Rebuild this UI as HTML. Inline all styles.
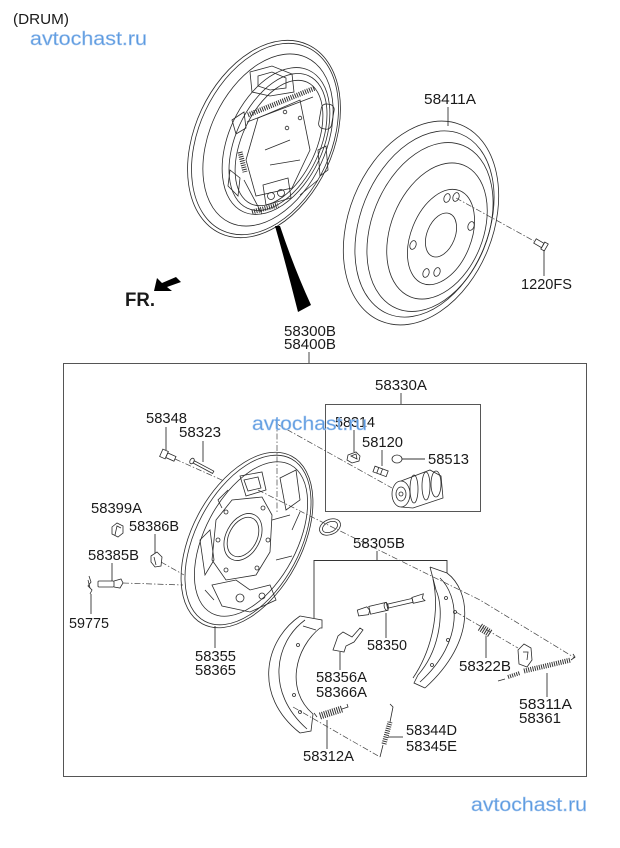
<!DOCTYPE html>
<html><head><meta charset="utf-8"><style>
html,body{margin:0;padding:0;background:#fff;}
svg{display:block}
text{font-family:"Liberation Sans",Arial,sans-serif;font-size:14.5px;fill:#1a1a1a}
.wm{fill:#5b9ae0;font-size:19px;stroke:#a8c8ef;stroke-width:0.5}
.l{stroke:#2a2a2a;stroke-width:0.8;fill:none}
.f{stroke:#2a2a2a;stroke-width:0.8;fill:#fff}
.d{stroke:#444;stroke-width:0.7;fill:none;stroke-dasharray:6 2 1.5 2}
.k{stroke:#333;stroke-width:0.9;fill:none}
.c{stroke:#333;fill:none;stroke-dasharray:1 1.2}
</style></head><body>
<svg width="620" height="848" viewBox="0 0 620 848" xmlns="http://www.w3.org/2000/svg">
<rect width="620" height="848" fill="#fff"/>

<!-- header -->
<text x="13" y="24" textLength="56" lengthAdjust="spacingAndGlyphs">(DRUM)</text>
<text class="wm" x="30" y="45" textLength="117" lengthAdjust="spacingAndGlyphs">avtochast.ru</text>

<!-- top assembled backing plate -->
<g class="l">
<ellipse cx="264" cy="139" rx="69" ry="104" transform="rotate(25 264 139)"/>
<ellipse cx="265" cy="139" rx="66" ry="101" transform="rotate(25 265 139)"/>
<ellipse cx="268" cy="140" rx="58" ry="91" transform="rotate(25 268 140)"/>
<ellipse cx="276" cy="141" rx="47" ry="78" transform="rotate(25 276 141)"/>
<ellipse cx="278" cy="142" rx="42" ry="73" transform="rotate(25 278 142)"/>
<ellipse cx="279" cy="143" rx="37" ry="67" transform="rotate(25 279 143)"/>
<path d="M258,118 L300,100 L310,150 L292,188 L256,196 L246,160 Z"/>
<path d="M250,72 L272,66 L292,74 L294,92 L270,96 L252,92 Z"/>
<path d="M258,76 L272,72 L286,78 L286,88 L270,90 L258,86 Z"/>
<line x1="247" y1="122" x2="313" y2="97"/>
<path d="M263,185 L288,178 L291,198 L266,205 Z"/>
<circle cx="271" cy="196" r="3.5"/><circle cx="281" cy="193" r="3.5"/>
<rect x="320" y="104" width="13" height="25" rx="5" transform="rotate(10 326 116)"/>
<circle cx="285" cy="112" r="1.8"/><circle cx="287" cy="128" r="1.8"/><circle cx="300" cy="118" r="1.8"/>
<path d="M232,120 L244,112 L246,128 L236,134 Z"/>
<path d="M230,170 L240,178 L238,196 L228,186 Z"/>
<path d="M318,150 L326,146 L328,170 L320,176 Z"/>
<path d="M244,180 L262,214 M300,195 L318,180 M265,150 L290,140 M270,165 L300,160"/>
</g>
<line class="c" x1="248" y1="115" x2="315" y2="88" stroke-width="5"/>
<line class="c" x1="240" y1="152" x2="245" y2="172" stroke-width="5"/>
<line class="c" x1="252" y1="212" x2="278" y2="205" stroke-width="5"/>

<!-- black wedge -->
<path d="M275,226 L280,226 Q294,268 311,305 L298,312 Q287,268 275,226 Z" fill="#000"/>

<!-- FR -->
<text x="125" y="306" style="font-weight:bold;font-size:19px" textLength="30" lengthAdjust="spacingAndGlyphs">FR.</text>
<polygon points="154,291 157,278 162,283 176,277 181,282 167,287 172,291" fill="#000"/>

<!-- drum -->
<g class="l">
<ellipse cx="421" cy="223" rx="72" ry="106" transform="rotate(22 421 223)"/>
<ellipse cx="424.5" cy="224" rx="64" ry="97" transform="rotate(22 424.5 224)"/>
<ellipse cx="430" cy="227" rx="58" ry="88" transform="rotate(22 430 227)"/>
<ellipse cx="437" cy="231" rx="46" ry="71" transform="rotate(22 437 231)"/>
<ellipse cx="441" cy="237" rx="30" ry="50" transform="rotate(22 441 237)"/>
<ellipse cx="441" cy="235" rx="14" ry="23" transform="rotate(22 441 235)"/>
<ellipse cx="447" cy="198" rx="3" ry="4.5" transform="rotate(20 447 198)"/>
<ellipse cx="456" cy="197" rx="3" ry="4.5" transform="rotate(20 456 197)"/>
<ellipse cx="471" cy="226" rx="3" ry="4.5" transform="rotate(20 471 226)"/>
<ellipse cx="413" cy="245" rx="3" ry="4.5" transform="rotate(20 413 245)"/>
<ellipse cx="426" cy="273" rx="3" ry="4.5" transform="rotate(20 426 273)"/>
<ellipse cx="437" cy="272" rx="3" ry="4.5" transform="rotate(20 437 272)"/>
</g>
<line class="d" x1="456" y1="198" x2="534" y2="241"/>
<g transform="translate(535,241) rotate(30)" class="l">
<rect x="0" y="-2.5" width="9" height="5"/>
<rect x="9" y="-4" width="4" height="8"/>
</g>
<line class="k" x1="544" y1="250" x2="544" y2="276"/>
<text x="521" y="289" textLength="51" lengthAdjust="spacingAndGlyphs">1220FS</text>
<text x="424" y="104" textLength="52" lengthAdjust="spacingAndGlyphs">58411A</text>
<line class="k" x1="448" y1="107" x2="448" y2="126"/>

<text x="284" y="336" textLength="52" lengthAdjust="spacingAndGlyphs">58300B</text>
<text x="284" y="349" textLength="52" lengthAdjust="spacingAndGlyphs">58400B</text>
<line class="k" x1="309" y1="352" x2="309" y2="363"/>

<!-- main box -->
<rect x="63.5" y="363.5" width="523" height="413" fill="none" stroke="#555" stroke-width="1"/>

<!-- sub box -->
<rect x="325.5" y="404.5" width="155" height="107" fill="none" stroke="#444" stroke-width="0.9"/>
<text x="375" y="390" textLength="52" lengthAdjust="spacingAndGlyphs">58330A</text>
<line class="k" x1="401" y1="393" x2="401" y2="404"/>
<text x="335" y="427" textLength="40" lengthAdjust="spacingAndGlyphs">58314</text>
<line class="k" x1="354" y1="430" x2="354" y2="452"/>
<text x="362" y="447" textLength="41" lengthAdjust="spacingAndGlyphs">58120</text>
<line class="k" x1="382" y1="450" x2="382" y2="466"/>
<text x="428" y="464" textLength="41" lengthAdjust="spacingAndGlyphs">58513</text>
<line class="k" x1="402" y1="459" x2="425" y2="459"/>
<g class="l">
<path d="M348,455 L356,452 L360,456 L359,461 L352,463 L347,460 Z"/>
<path d="M351,456 L356,454 L357,459 Z"/>
<g transform="translate(374,469) rotate(20)"><rect x="0" y="-3" width="14" height="6"/><line x1="4" y1="-3" x2="4" y2="3"/><line x1="8" y1="-3" x2="8" y2="3"/></g>
<ellipse cx="397" cy="459" rx="5" ry="4"/>
<path d="M401,481 L430,470 L441,476 L443,498 L413,508 L401,507"/>
<ellipse cx="401" cy="494" rx="9" ry="13"/>
<ellipse cx="401" cy="494" rx="5" ry="7"/>
<circle cx="401" cy="494" r="2"/>
<ellipse cx="414" cy="489" rx="4" ry="14"/>
<ellipse cx="426" cy="486" rx="4" ry="14"/>
<ellipse cx="436" cy="484" rx="5" ry="13"/>
</g>

<!-- lower backing plate -->
<g class="l">
<ellipse cx="247" cy="540" rx="55" ry="95" transform="rotate(28 247 540)"/>
<ellipse cx="248" cy="540" rx="52" ry="92" transform="rotate(28 248 540)"/>
<ellipse cx="251" cy="539" rx="46" ry="84" transform="rotate(28 251 539)"/>
<ellipse cx="243" cy="537" rx="14" ry="21" transform="rotate(28 243 537)"/>
<ellipse cx="243" cy="537" rx="17" ry="25" transform="rotate(28 243 537)"/>
<path d="M216,520 L232,500 L262,497 L272,515 L270,552 L256,575 L226,580 L212,560 Z"/>
<path d="M240,476 L262,472 L266,490 L246,496 Z"/>
<path d="M244,480 L258,477 L261,488 L248,491 Z"/>
<path d="M280,478 L296,470 L300,500 L286,510 Z"/>
<path d="M212,585 L236,580 L250,590 L270,585 L276,600 L250,612 L222,606 Z"/>
<path d="M200,540 L210,530 L214,560 L205,575 Z"/>
<path d="M228,490 L218,500 L222,508 M300,512 L292,530 M272,520 L290,515 M276,560 L292,556 M205,590 L214,600"/>
<circle cx="226" cy="512" r="2"/><circle cx="263" cy="508" r="2"/><circle cx="268" cy="540" r="2"/>
<circle cx="257" cy="568" r="2"/><circle cx="226" cy="570" r="2"/><circle cx="218" cy="540" r="2"/>
<circle cx="240" cy="598" r="4"/><circle cx="262" cy="596" r="3"/>
<ellipse cx="330" cy="527" rx="11" ry="7.5" transform="rotate(-25 330 527)"/>
<ellipse cx="330" cy="527" rx="8" ry="5" transform="rotate(-25 330 527)"/>
</g>
<text x="195" y="661" textLength="41" lengthAdjust="spacingAndGlyphs">58355</text>
<text x="195" y="675" textLength="41" lengthAdjust="spacingAndGlyphs">58365</text>
<line class="k" x1="215" y1="626" x2="215" y2="648"/>

<!-- dashed lines -->
<line class="d" x1="277" y1="422" x2="277" y2="512"/>
<line class="d" x1="277" y1="424" x2="392" y2="488"/>
<polyline class="d" points="258,490 330,526 480,600 575,658"/>
<line class="d" x1="175" y1="459" x2="224" y2="481"/>
<line class="d" x1="161" y1="562" x2="184" y2="575"/>
<line class="d" x1="123" y1="583" x2="183" y2="585"/>
<line class="d" x1="456" y1="612" x2="518" y2="648"/>
<line class="d" x1="293" y1="707" x2="380" y2="757"/>

<!-- left small parts -->
<text x="146" y="423" textLength="41" lengthAdjust="spacingAndGlyphs">58348</text>
<line class="k" x1="166" y1="427" x2="166" y2="450"/>
<g transform="translate(164,454) rotate(24)" class="l"><rect x="-3" y="-4" width="6" height="8"/><rect x="3" y="-2.5" width="9" height="5"/></g>
<text x="179" y="437" textLength="42" lengthAdjust="spacingAndGlyphs">58323</text>
<line class="k" x1="203" y1="441" x2="203" y2="462"/>
<g transform="translate(192,461) rotate(28)" class="l"><ellipse cx="0" cy="0" rx="2" ry="3"/><rect x="2" y="-1.3" width="22" height="2.6"/></g>
<text x="91" y="513" textLength="51" lengthAdjust="spacingAndGlyphs">58399A</text>
<g class="l"><path d="M112,527 L117,523 L123,526 L123,533 L118,537 L112,534 Z"/><path d="M115,535 L117,526 L121,528"/></g>
<text x="129" y="531" textLength="50" lengthAdjust="spacingAndGlyphs">58386B</text>
<line class="k" x1="155" y1="534" x2="155" y2="553"/>
<g class="l"><path d="M151,556 L157,552 L162,557 L161,566 L155,567 L151,562 Z"/><path d="M154,557 L156,565"/></g>
<text x="88" y="560" textLength="51" lengthAdjust="spacingAndGlyphs">58385B</text>
<line class="k" x1="112" y1="563" x2="112" y2="581"/>
<g class="l"><rect x="98" y="581" width="16" height="6" rx="1"/><path d="M114,581 L121,579 L123,583 L120,588 L114,587"/></g>
<g class="l"><path d="M89,576 L91,582 L88,586 L92,590 L90,594"/><path d="M88,580 L90,588"/></g>
<line class="k" x1="91" y1="594" x2="91" y2="614"/>
<text x="69" y="628" textLength="40" lengthAdjust="spacingAndGlyphs">59775</text>

<!-- 58305B bracket -->
<text x="353" y="548" textLength="52" lengthAdjust="spacingAndGlyphs">58305B</text>
<polyline class="k" points="314,618 314,560.5 447,560.5 447,573"/>
<line class="k" x1="377" y1="551" x2="377" y2="560"/>

<!-- left shoe -->
<g class="l">
<path d="M300,616 C265,640 252,695 300,733"/>
<path d="M305,620 C275,642 265,692 307,729"/>
<path d="M320,628 C295,648 285,690 313,714"/>
<path d="M300,616 L322,620 L322,628 L320,628"/>
<path d="M300,733 L311,731 L313,714"/>
<path d="M303,626 L316,630"/>
<circle cx="298" cy="645" r="1.5"/><circle cx="294" cy="695" r="1.5"/><circle cx="300" cy="712" r="1.5"/>
</g>

<!-- right shoe -->
<g class="l">
<path d="M447,573 C470,590 478,640 425,688"/>
<path d="M440,578 C458,595 466,640 420,682"/>
<path d="M436,590 C445,610 440,650 418,675"/>
<path d="M430,567 L447,573 M430,567 L436,590"/>
<path d="M425,688 L414,683 L418,675"/>
<path d="M433,579 C440,612 432,650 413,678"/>
<circle cx="446" cy="598" r="1.5"/><circle cx="455" cy="612" r="1.5"/><circle cx="448" cy="640" r="1.5"/><circle cx="432" cy="665" r="1.5"/>
</g>

<!-- adjuster 58350 -->
<g transform="translate(358,613) rotate(-13)" class="l">
<path d="M0,-3 L10,-4 L12,0 L10,4 L0,3 Z"/>
<rect x="12" y="-4" width="18" height="8"/>
<ellipse cx="29" cy="0" rx="2" ry="4"/>
<rect x="30" y="-2" width="26" height="4"/>
<path d="M56,-3 L68,-4 L66,0 L68,3 L56,3 Z"/>
</g>
<line class="k" x1="386" y1="613" x2="386" y2="638"/>
<text x="367" y="650" textLength="40" lengthAdjust="spacingAndGlyphs">58350</text>

<!-- lever 58356A -->
<path class="l" d="M333,650 L338,636 L343,632 L352,637 L360,628 L363,630 L354,642 L346,646 L344,652 Z"/>
<line class="k" x1="340" y1="652" x2="340" y2="670"/>
<text x="316" y="682" textLength="51" lengthAdjust="spacingAndGlyphs">58356A</text>
<text x="316" y="697" textLength="51" lengthAdjust="spacingAndGlyphs">58366A</text>

<!-- 58322B + clip -->
<line class="c" x1="480" y1="627" x2="491" y2="634" stroke-width="8"/>
<line class="k" x1="486" y1="636" x2="486" y2="658"/>
<text x="459" y="671" textLength="52" lengthAdjust="spacingAndGlyphs">58322B</text>
<g class="l"><path d="M518,650 L524,644 L531,648 L532,660 L527,667 L519,664 Z"/><path d="M523,652 L528,652 L527,660"/></g>

<!-- 58311A spring -->
<line class="c" x1="524" y1="671" x2="571" y2="660" stroke-width="5"/>
<line class="c" x1="508" y1="677" x2="520" y2="673" stroke-width="4"/>
<path class="l" d="M505,679 L498,681 M571,660 L575,657 L573,654"/>
<line class="k" x1="547" y1="673" x2="547" y2="697"/>
<text x="519" y="709" textLength="53" lengthAdjust="spacingAndGlyphs">58311A</text>
<text x="519" y="723" textLength="42" lengthAdjust="spacingAndGlyphs">58361</text>

<!-- 58344D spring -->
<line class="c" x1="384" y1="744" x2="390" y2="722" stroke-width="5"/>
<path class="l" d="M380,757 L383,745 M390,722 L393,707 L390,704"/>
<line class="k" x1="388" y1="737" x2="403" y2="737"/>
<text x="406" y="735" textLength="51" lengthAdjust="spacingAndGlyphs">58344D</text>
<text x="406" y="751" textLength="51" lengthAdjust="spacingAndGlyphs">58345E</text>

<!-- 58312A spring -->
<line class="c" x1="320" y1="716" x2="342" y2="709" stroke-width="7"/>
<path class="l" d="M317,717 L314,713 M342,709 L348,707 L347,704"/>
<line class="k" x1="327" y1="720" x2="327" y2="749"/>
<text x="303" y="761" textLength="51" lengthAdjust="spacingAndGlyphs">58312A</text>

<!-- watermarks -->
<text class="wm" x="252" y="430" textLength="115" lengthAdjust="spacingAndGlyphs">avtochast.ru</text>
<text class="wm" x="471" y="811" textLength="116" lengthAdjust="spacingAndGlyphs">avtochast.ru</text>
</svg>
</body></html>
